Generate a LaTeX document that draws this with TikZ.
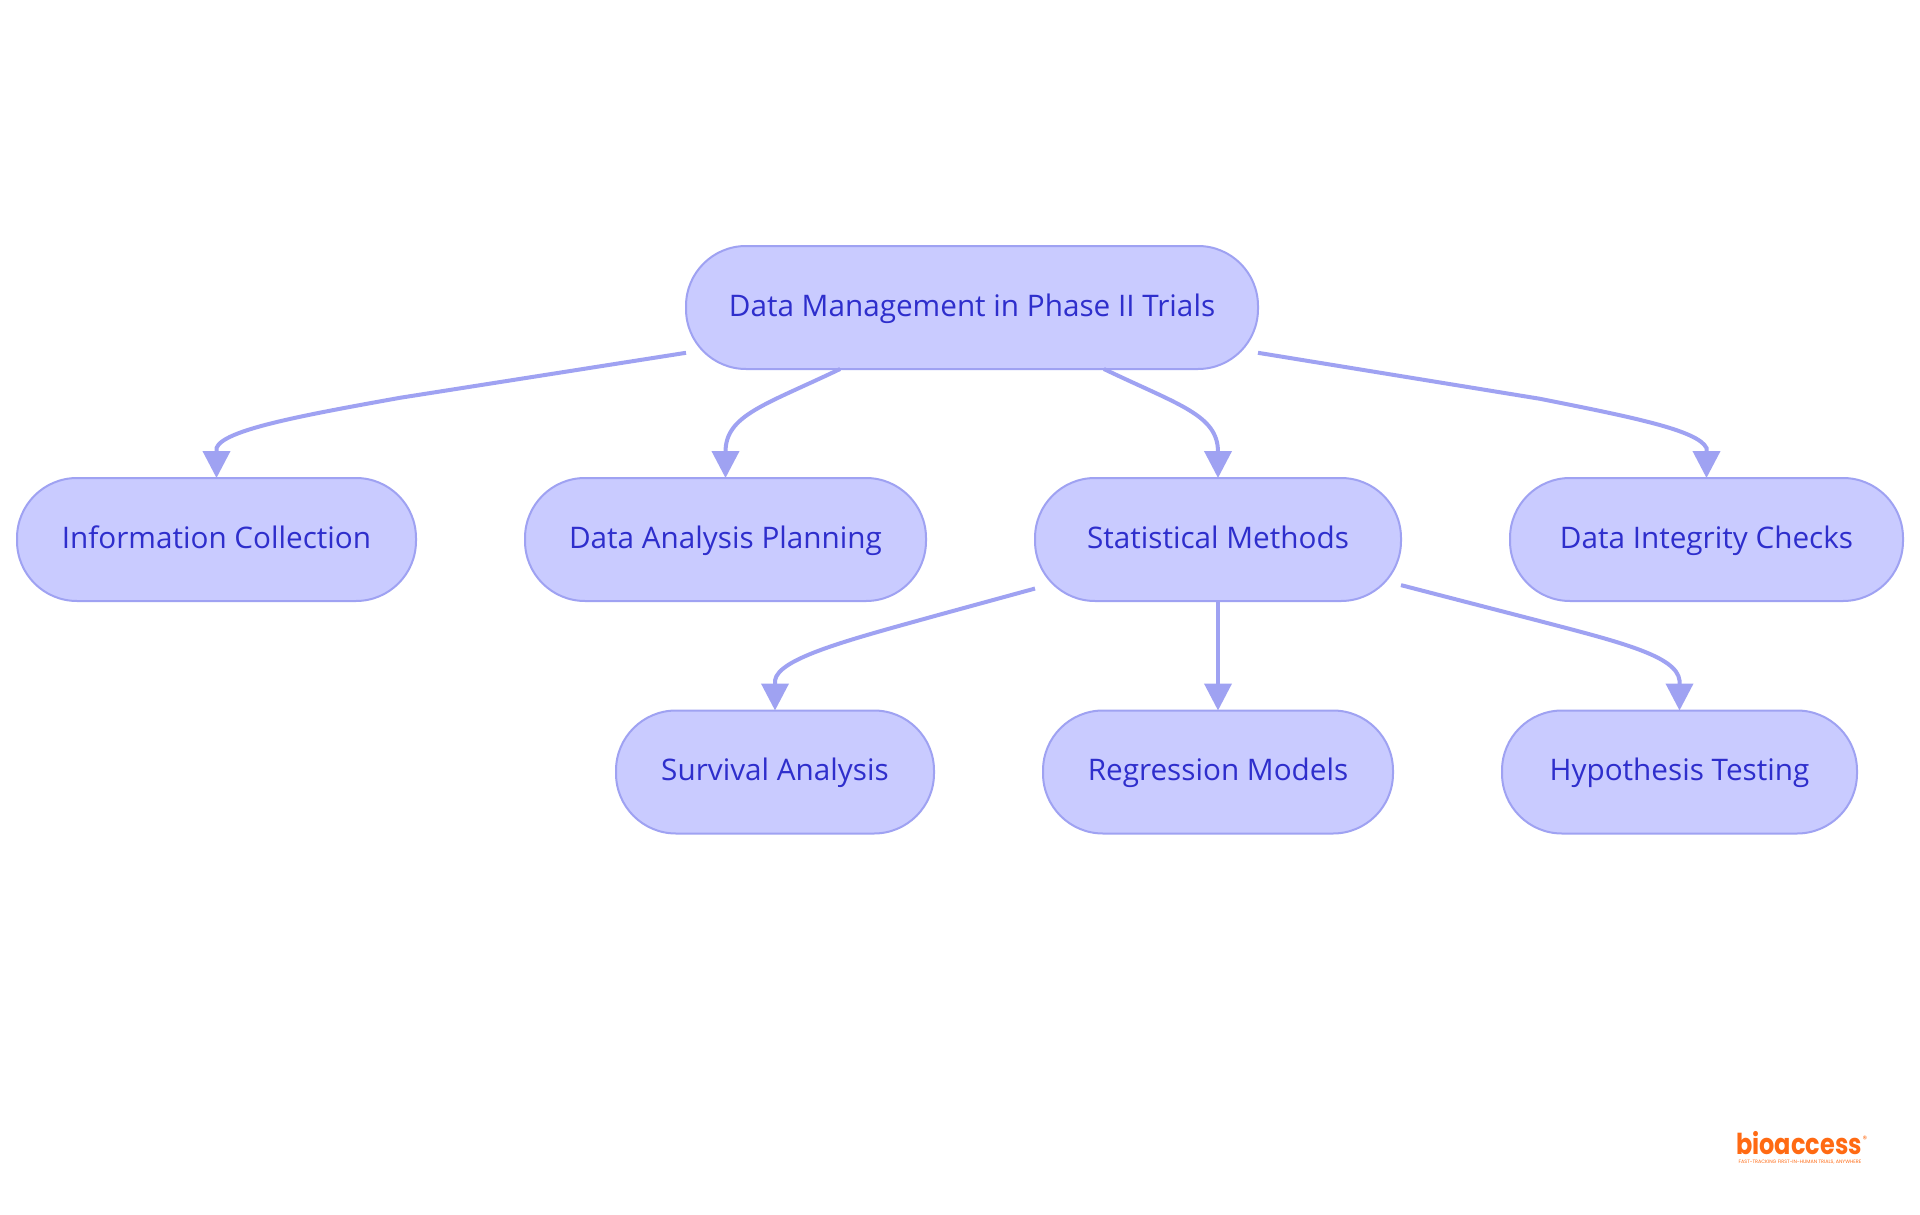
\documentclass[tikz,border=0pt]{standalone}
\usepackage{fontspec}
\setmainfont{Open Sans}
\newfontfamily\logofont{Poppins}
\usetikzlibrary{arrows.meta,calc}
\definecolor{nodefill}{HTML}{C9CBFF}
\definecolor{nodeline}{HTML}{9FA2F2}
\definecolor{nodetext}{HTML}{2E2ECC}
\definecolor{logoorange}{HTML}{FF6A13}
\tikzset{
  box/.style={draw=nodeline,fill=nodefill,line width=2pt,rounded corners=60pt,
    minimum height=123pt,inner sep=0pt,outer sep=0pt,text height=22pt,text depth=5pt,
    text=nodetext,font=\fontsize{29.7}{34}\selectfont},
  link/.style={draw=nodeline,line width=4pt,-{Triangle[length=27pt,width=27pt,fill=nodeline]}},
}
\begin{document}
\begin{tikzpicture}[x=1pt,y=-1pt]
\useasboundingbox (0,0) rectangle (1920,1215);
\fill[white] (0,0) rectangle (1920,1215);
\node[box,minimum width=572pt] (root) at (972,307.5) {Data Management in Phase II Trials};
\node[box,minimum width=399pt] (info) at (216.5,539.5) {Information Collection};
\node[box,minimum width=401pt] (plan) at (725.5,539.5) {Data Analysis Planning};
\node[box,minimum width=366pt] (stat) at (1218,539.5) {Statistical Methods};
\node[box,minimum width=393pt] (integ) at (1706.5,539.5) {Data Integrity Checks};
\node[box,minimum width=318pt] (surv) at (775,772) {Survival Analysis};
\node[box,minimum width=350pt] (regr) at (1218,772) {Regression Models};
\node[box,minimum width=355pt] (hypo) at (1679.5,772) {Hypothesis Testing};
\draw[link] (root.189.6) -- +(-286,45) .. controls +(-100,18) and (223,430) .. ($(info.north)+(0,-30)$) -- (info.north);
\draw[link] (root.205.15) .. controls +(-75,36) and (725.5,415) .. (plan.north);
\draw[link] (root.-25.5) .. controls +(75,36) and (1218,415) .. (stat.north);
\draw[link] (root.-9.6) -- +(282,46) .. controls +(90,18) and (1698,430) .. ($(integ.north)+(0,-30)$) -- (integ.north);
\draw[link] (stat.195.2) -- +(-95,26) .. controls +(-90,25) and (778,658) .. ($(surv.north)+(0,-30)$) -- (surv.north);
\draw[link] (stat.south) -- (regr.north);
\draw[link] (stat.-14.9) -- +(139,36) .. controls +(80,21) and (1677,656) .. ($(hypo.north)+(0,-30)$) -- (hypo.north);
\node[inner sep=0pt,text=logoorange,font=\logofont\bfseries\fontsize{24}{24}\selectfont] (logo) at (1799,1143) {\scalebox{1}[1.2]{bioaccess}};
\node[inner sep=0pt,text=logoorange,font=\logofont\fontsize{9}{9}\selectfont] (mark) at (1865,1139) {®};
\node[inner sep=0pt,text=logoorange,font=\logofont\fontsize{4.85}{5}\selectfont] (tag) at (1800,1162.5) {FAST-TRACKING FIRST-IN-HUMAN TRIALS, ANYWHERE};
\end{tikzpicture}
\end{document}
